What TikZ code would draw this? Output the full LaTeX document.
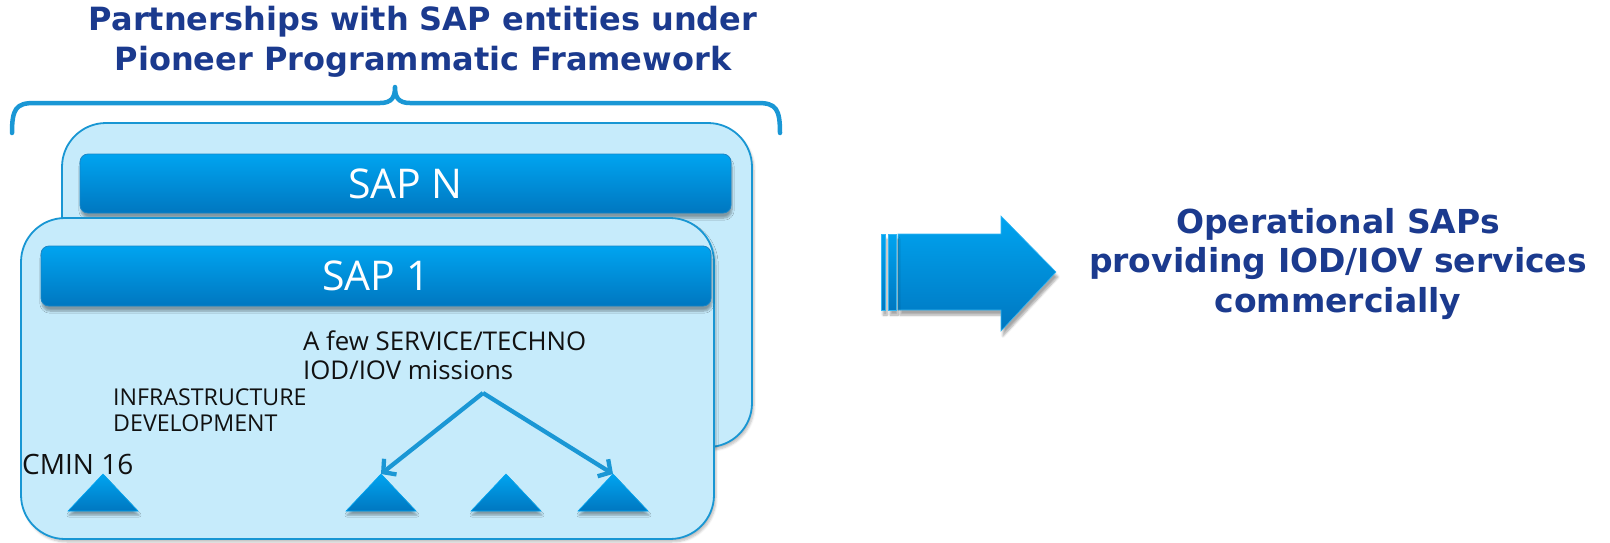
\documentclass[tikz,border=0pt]{standalone}
\usepackage{fontspec}
\setmainfont{DejaVu Sans}
\newfontfamily\labelfont{Open Sans}
\usetikzlibrary{arrows.meta,shadows.blur}

\definecolor{navy}{HTML}{1B3A8E}
\definecolor{panelfill}{HTML}{C6EBFB}
\definecolor{panelline}{HTML}{1896D3}
\definecolor{bartop}{HTML}{00A4F0}
\definecolor{barbot}{HTML}{0077C0}
\definecolor{linkblue}{HTML}{1A97D5}
\definecolor{inktext}{HTML}{111111}

\tikzset{
  heading/.style={text=navy, align=center, inner sep=0pt, font=\bfseries},
  panel/.style={draw=panelline, line width=1.8pt, fill=panelfill,
    rounded corners=44pt, inner sep=0pt,
    blur shadow={shadow xshift=2pt, shadow yshift=-3pt, shadow blur steps=5, shadow opacity=25}},
  sapbar/.style={draw=barbot!90!white, line width=0.8pt, rounded corners=8pt,
    top color=bartop, bottom color=barbot, inner sep=0pt, text=white,
    font=\labelfont\fontsize{41}{44}\selectfont,
    blur shadow={shadow xshift=1pt, shadow yshift=-5pt, shadow blur steps=6, shadow opacity=35}},
  tri/.style={top color=bartop, bottom color=barbot, draw=bartop, line width=0.6pt,
    blur shadow={shadow xshift=1pt, shadow yshift=-4pt, shadow blur steps=5, shadow opacity=35}},
  note/.style={text=inktext, align=left, inner sep=0pt, anchor=west},
  brace/.style={draw=linkblue, line width=4.5pt, line cap=round, line join=round},
  link/.style={draw=linkblue, line width=4.3pt, -{Straight Barb[length=9pt,width=20pt]}},
  bigarrow/.style={top color=bartop, bottom color=barbot, draw=bartop!80!white, line width=0.6pt,
    blur shadow={shadow xshift=2pt, shadow yshift=-5pt, shadow blur steps=6, shadow opacity=35}},
}

\begin{document}
\begin{tikzpicture}[x=1pt,y=-1pt]
\useasboundingbox (0,0) rectangle (1610,542);

% heading above the brace
\node[heading, font=\fontsize{32}{39.5}\selectfont\bfseries] (title) at (423,42)
  {Partnerships with SAP entities under\\Pioneer Programmatic Framework};

% curly brace spanning the partnership panels
\draw[brace] (12,133) .. controls (12,109) and (16,103) .. (34,103) -- (380,103)
  .. controls (392,103) and (395,97) .. (395,87)
  .. controls (395,97) and (398,103) .. (410,103) -- (758,103)
  .. controls (776,103) and (780,109) .. (780,133);

% back panel: SAP N
\node[panel, minimum width=690pt, minimum height=324pt] (backpanel) at (407,285) {};
\node[sapbar, minimum width=651pt, minimum height=59pt] (sapn) at (405.5,183.5) {SAP N};

% front panel: SAP 1
\node[panel, minimum width=693pt, minimum height=321pt] (frontpanel) at (367.5,378.5) {};
\node[sapbar, minimum width=670pt, minimum height=60pt] (sap1) at (376,276) {SAP 1};

% labels inside the front panel
\node[note, font=\labelfont\fontsize{25.8}{29}\selectfont] (missions) at (303,355.5)
  {A few SERVICE/TECHNO\\IOD/IOV missions};
\node[note, font=\labelfont\fontsize{23.2}{26}\selectfont] (infra) at (113,410)
  {INFRASTRUCTURE\\DEVELOPMENT};
\node[note, font=\labelfont\fontsize{28}{28}\selectfont] (cmin) at (22,464) {CMIN 16};

% mission triangles
\coordinate (apexA) at (103,474);
\coordinate (apexB) at (381,474);
\coordinate (apexC) at (506,474);
\coordinate (apexD) at (613,474);
\path[tri] (68,511) -- (apexA) -- (138,511) -- cycle;
\path[tri] (346,511) -- (apexB) -- (416,511) -- cycle;
\path[tri] (471,511) -- (apexC) -- (541,511) -- cycle;
\path[tri] (578,511) -- (apexD) -- (648,511) -- cycle;

% branching arrows from the missions label
\coordinate (fork) at (483,393);
\draw[link] (fork) -- (apexB);
\draw[link] (fork) -- (apexD);

% big block arrow with stripes
\path[bigarrow] (898,234) -- (1001,234) -- (1001,216) -- (1056,272) -- (1001,331)
  -- (1001,310) -- (898,310) -- cycle;
\path[bigarrow] (881,234) rectangle (885,310);
\path[bigarrow] (888,234) rectangle (896,310);

% outcome text
\node[heading, font=\fontsize{33}{39.5}\selectfont\bfseries] (result) at (1338,264)
  {Operational SAPs\\providing IOD/IOV services\\commercially};
\end{tikzpicture}
\end{document}
